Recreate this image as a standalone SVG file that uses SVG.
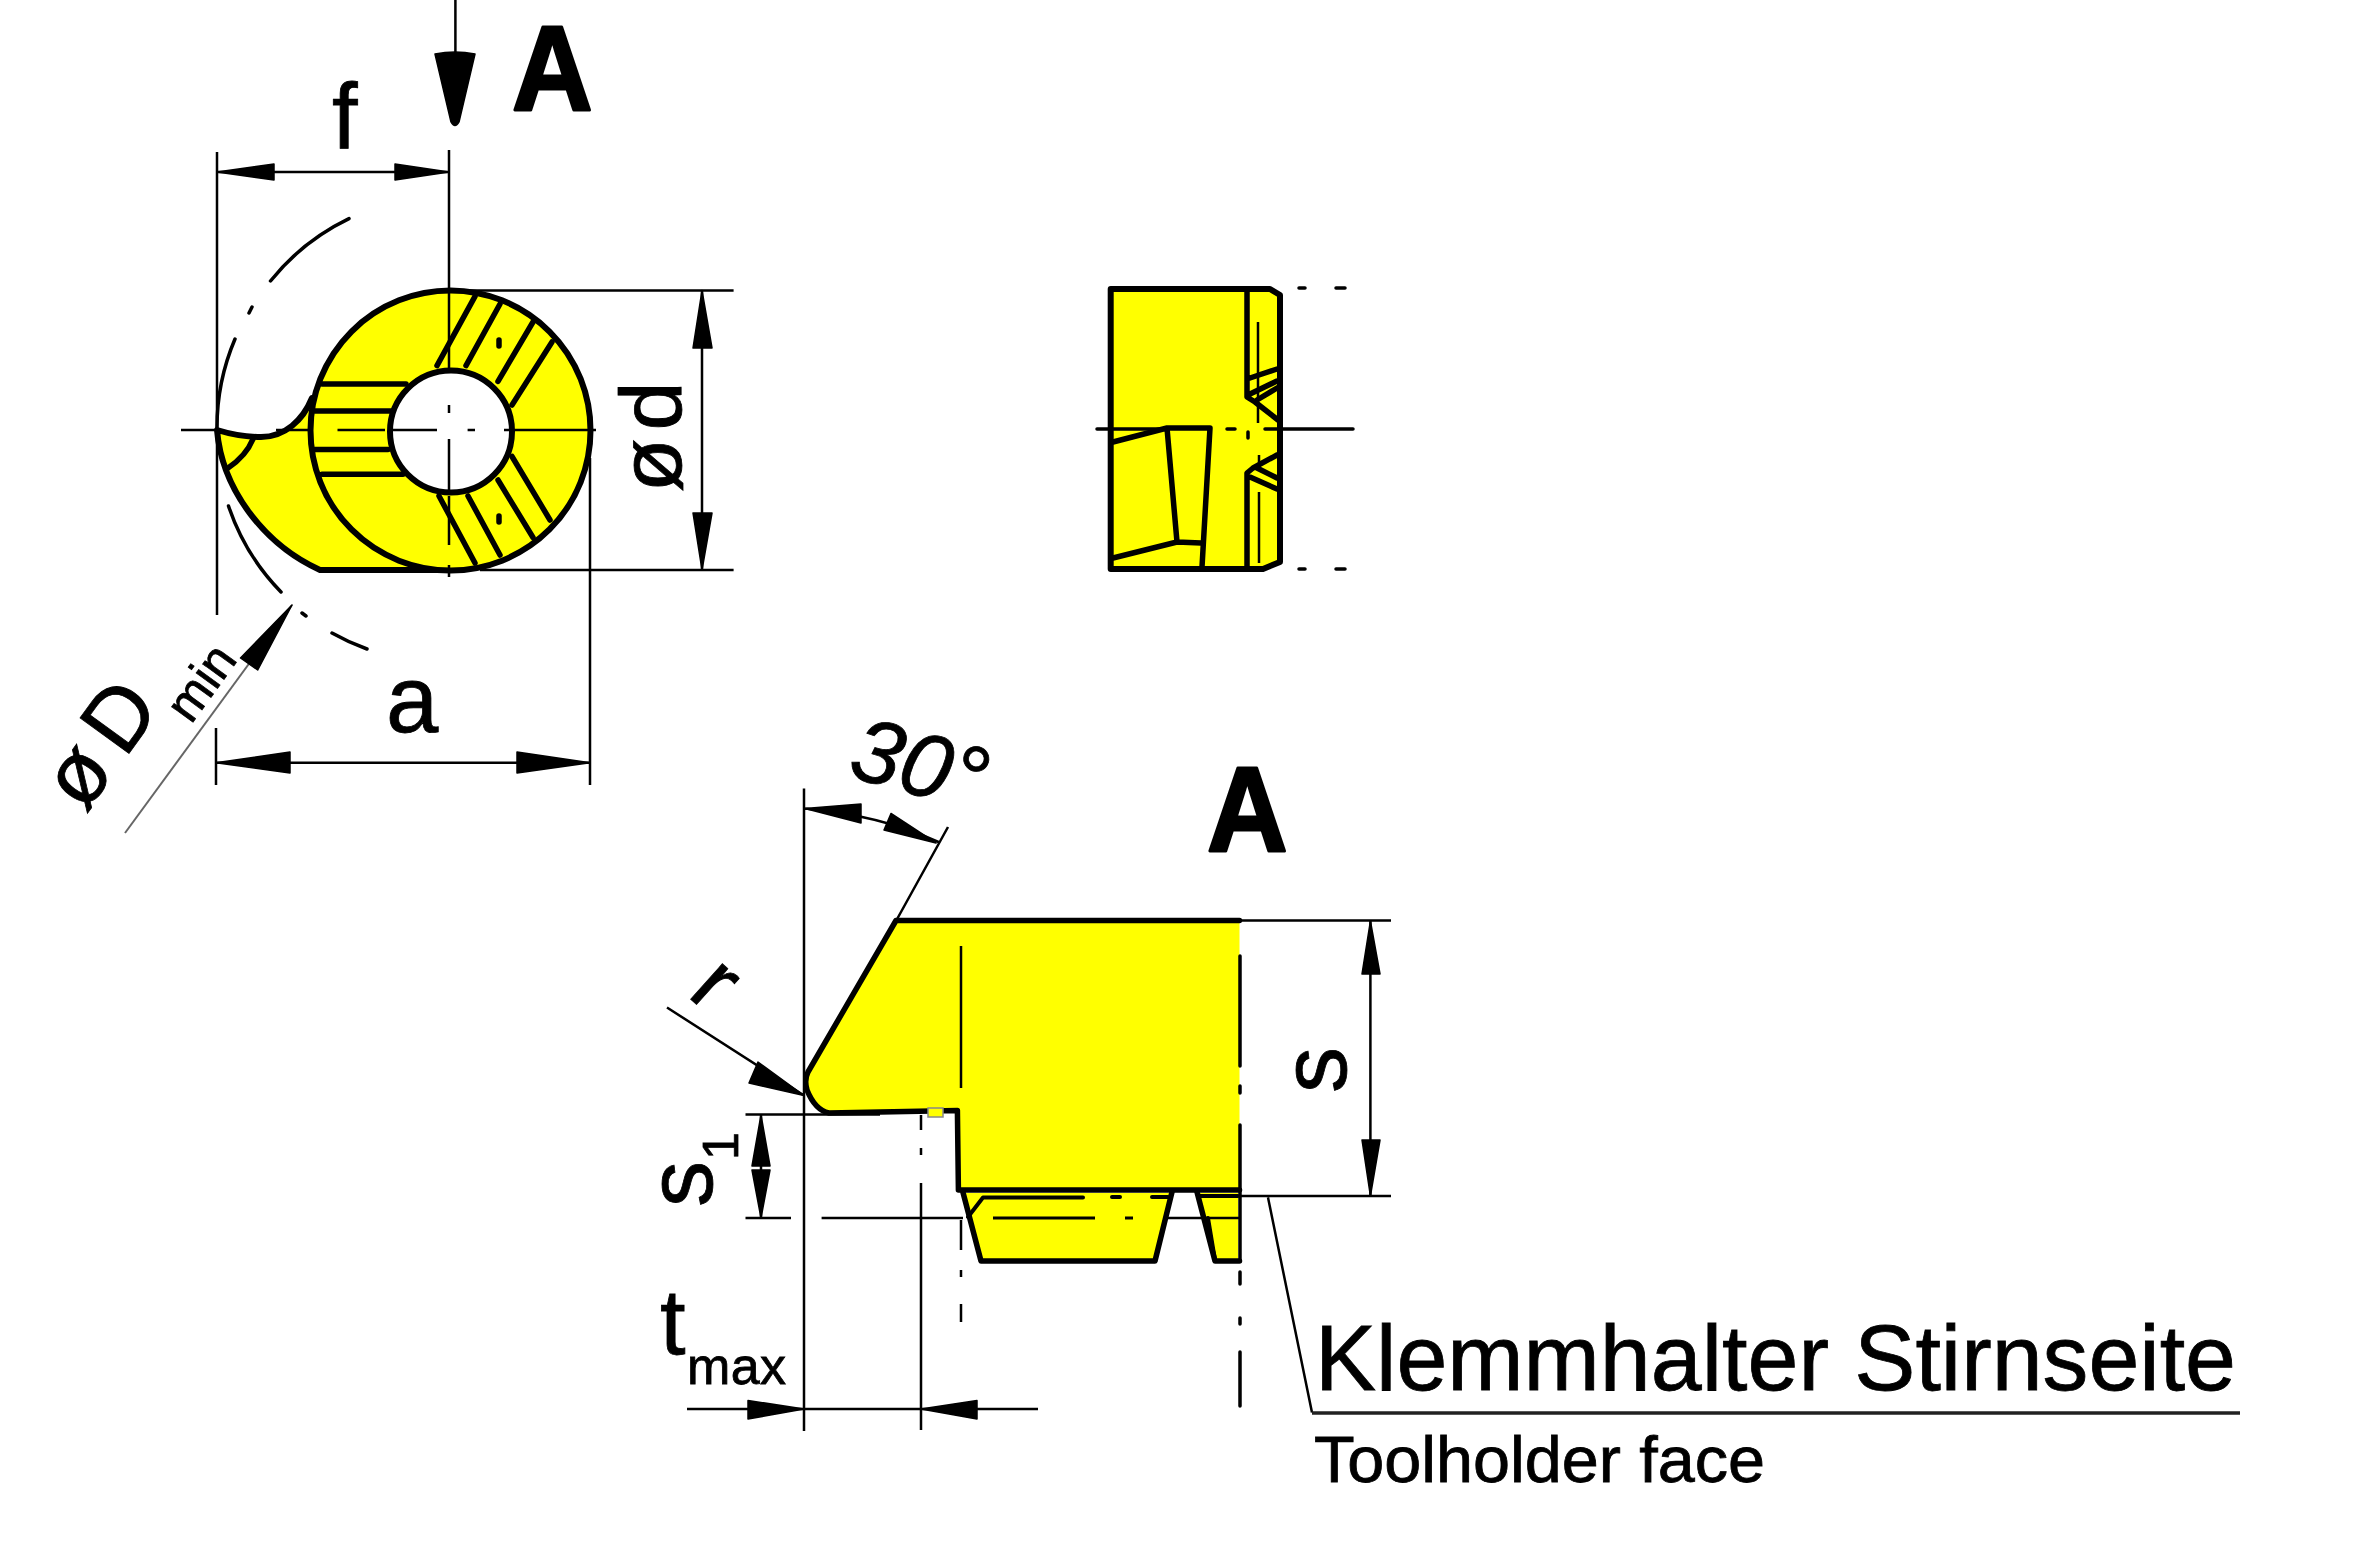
<svg xmlns="http://www.w3.org/2000/svg" width="2362" height="1559" viewBox="0 0 2362 1559">
<style>
text{font-family:"Liberation Sans",Arial,sans-serif;fill:#000;stroke:#000;stroke-width:.8}
.b{font-weight:bold;font-size:120px;stroke-width:3;stroke-linejoin:round}
.part{fill:#ff0;stroke:#000;stroke-width:6;stroke-linejoin:round;stroke-linecap:round}
.y{fill:#ff0;stroke:none}
.k{fill:none;stroke:#000;stroke-width:5.5;stroke-linecap:round;stroke-linejoin:round}
.m{fill:none;stroke:#000;stroke-width:3.5;stroke-linecap:round;stroke-linejoin:round}
.t{fill:none;stroke:#000;stroke-width:2.5}
.g{fill:none;stroke:#666;stroke-width:2}
.a{fill:#000;stroke:#000;stroke-width:1.5;stroke-linejoin:round}
</style>
<rect width="2362" height="1559" fill="#fff"/>
<g id="front-view">
<path class="part" d="M312,398C303,420 285,437 261,437C245,437 230,434 217,430C222,490 265,545 320,570L450,570"/>
<circle class="part" cx="450.5" cy="430.5" r="140"/>
<path class="k" d="M322,384H406M315,411H391M315,449.4H388M322,474.3H403M437,365.6L475,296.4M466,365.6L500,304M498,381.4L533,322M512,405L552,342M439,496L475,563M468,496L500,555M498,480L533,537.5M512,456.5L550,520"/>
<path class="k" d="M253,439Q246,456 228,468"/>
<circle class="part" style="fill:#fff" cx="451" cy="431.5" r="61"/>
<path class="k" d="M499,340V346M499,516V522"/>
<path class="m" d="M349,218.6A226,226 0 0 0 270.5,281M252,307L249,313M235,339A226,226 0 0 0 217,430M228.5,506A226,226 0 0 0 281,592M302,613L306,616M332,633A226,226 0 0 0 367,649"/>
</g>
<g id="side-view">
<path class="part" d="M1110.7,289H1270L1280,295V562L1263,569H1110.7Z"/>
<path class="k" d="M1247,289V397L1255,402L1278,420M1247,568V473L1253,468L1277,455M1250,378L1277,369M1250,394L1277,381M1257,400L1277,388M1250,477L1277,489M1257,468L1277,478"/>
<path class="k" d="M1113,442L1167,428H1210L1202,567M1167,428L1177,542L1201,543M1113,558L1177,542"/>
<path class="t" d="M1258,322V423M1259,455V463M1259,492V563"/>
<path class="m" d="M1299,288H1305M1336,288H1345M1299,569H1305M1336,569H1345"/>
<path class="m" d="M1097,429H1165M1227,429H1235M1248,432V438M1265,429H1353"/>
</g>
<g id="section-view">
<path class="y" d="M896,921H1239.5V1190H958.4L957.4,1110L829,1113Q815,1110 807,1090Q804,1080 808,1072Z"/>
<path class="k" d="M1239.5,920.5H896L808,1072Q804,1080 807,1090Q815,1110 829,1113L957.4,1110.4L958.4,1190H1239.5"/>
<path class="y" d="M963,1193H1172L1155,1259H981Z"/>
<path class="y" d="M1197,1193H1238V1259H1215Z"/>
<path class="k" style="stroke-width:4" d="M968,1217L983,1197.5H1083M1112,1197H1120M1152,1197H1168M1200,1196H1238M1208,1218L1215,1260"/>
<path class="t" d="M961,946V1088M1167,1218H1239.5"/>
<path class="t" style="stroke-width:3" d="M993,1218H1095M1125,1218H1133"/>
<path class="k" d="M963,1192.5L981,1261H1155L1172,1192M1197,1192L1215,1261H1239.5"/>
<rect x="928" y="1108" width="15" height="9" fill="#ff0" stroke="#888" stroke-width="1.5"/>
<path class="m" d="M1240,956V1066M1240,1086V1093M1240,1125V1261M1240,1272V1284M1240,1318V1324M1240,1352V1406"/>
<path class="t" d="M961,1220V1250M961,1270V1277M961,1304V1322M921,1115V1130M921,1148V1155M921,1183V1430"/>
</g>
<g id="connectors">
<path class="t" d="M455.4,0V55M217,152V615M216,728V785M449,150V369M449,405V413M449,439V490M449,496V545M449,565V577M217,172H449M181,430H215M276,430H309M337.5,430H385M390,430H437M467.6,430H475M504,430H596M450,290.5H733.6M480,570H733.6M702,290.5V570M590,458V785M216,762.7H590"/>
<path class="g" d="M125,833L292,605"/>
<path class="a" d="M435,54Q455,50 475,54L459,122Q455,129 451,122Z"/>
<path class="a" d="M217,172L274,164V180ZM449,172L395,164V180ZM702,290.5L693,348H712ZM702,570L693,513H712ZM216,762.7L290,752V773ZM590,762.7L517,752V773ZM292,605L240.5,658L257.7,670Z"/>
<path class="t" d="M804,788.5V1431M896,921L948,827M805,808.5Q880,815 938.5,842M667,1007.5L804,1095.5M745.5,1114.4H880M761,1114.4V1218M745.5,1218H791M821.6,1218H963M1239,920.5H1391M1239,1196H1391M1370.4,921V1196M1268,1197.5L1312,1412.5M687,1409H1038"/>
<path d="M1312,1413H2240" fill="none" stroke="#222" stroke-width="3.5"/>
<path class="a" d="M805,808.5L861,804V823ZM936,843L891,813.5L884,830ZM804,1095.5L758,1062L749,1083ZM761,1115L752,1166H770ZM761,1218L752,1170H770ZM1370.4,921L1362,974H1380ZM1370.4,1196L1362,1140H1380ZM804,1409L748,1400.5V1419ZM921,1409L977,1400.5V1419Z"/>
</g>
<g id="labels">
<text class="b" transform="translate(512,110) scale(.93,1)">A</text>
<text x="332" y="148" font-size="92">f</text>
<text font-size="88" letter-spacing="8" transform="translate(681,433) rotate(-90)" text-anchor="middle">ød</text>
<text x="386" y="732" font-size="94">a</text>
<text font-size="88" transform="translate(85,814) rotate(-54)">ø<tspan dx="14">D</tspan></text>
<text font-size="50" transform="translate(191,725) rotate(-54)">min</text>
<text font-size="90" font-style="italic" transform="translate(846,776) rotate(15)">30°</text>
<text class="b" transform="translate(1207,851) scale(.93,1)">A</text>
<text font-size="90" transform="translate(686,995) rotate(42)">r</text>
<text font-size="92" transform="translate(1346,1070) rotate(-90)" text-anchor="middle">s</text>
<text font-size="92" transform="translate(712,1184) rotate(-90)" text-anchor="middle">s</text>
<text font-size="50" transform="translate(738,1146) rotate(-90)" text-anchor="middle">1</text>
<text x="660" y="1354" font-size="92">t</text>
<text x="687" y="1384" font-size="52" textLength="99">max</text>
<text x="1315" y="1390" font-size="92" textLength="921" lengthAdjust="spacingAndGlyphs">Klemmhalter Stirnseite</text>
<text x="1314" y="1482" font-size="65" textLength="451" lengthAdjust="spacingAndGlyphs">Toolholder face</text>
</g>
</svg>
